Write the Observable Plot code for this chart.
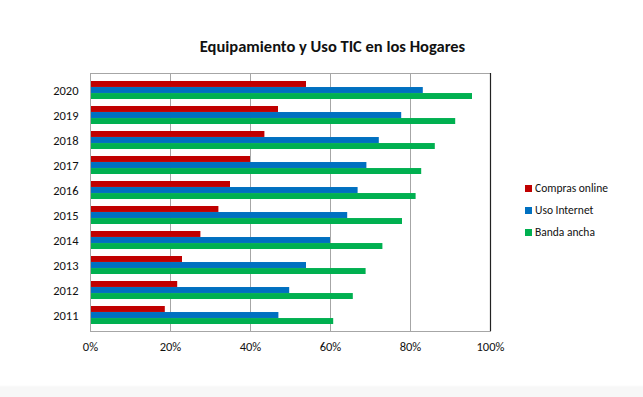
<!DOCTYPE html>
<html>
<head>
<meta charset="utf-8">
<script src="https://cdn.jsdelivr.net/npm/d3@7"></script>
<script src="https://cdn.jsdelivr.net/npm/@observablehq/plot@0.6"></script>
<style>
  html, body { margin: 0; padding: 0; background: #fff; }
  #wrap { position: relative; width: 643px; height: 397px; font-family: Carlito, Calibri, Lato, sans-serif; overflow: hidden;
          background: linear-gradient(to bottom, #fff 0, #fff 385px, #f7f7f7 387px, #f7f7f7 397px); }
  #legend { position: absolute; left: 525px; top: 177px; font-size: 11.5px; color: #111; }
  .item { display: flex; align-items: center; height: 22px; }
  .sw { width: 7px; height: 7px; margin-right: 3px; }
  svg { position: absolute; left: 0; top: 0; }
</style>
</head>
<body>
<div id="wrap"></div>
<script>
const years = [2020, 2019, 2018, 2017, 2016, 2015, 2014, 2013, 2012, 2011];
const comprasOnline = [54, 47, 43.6, 40, 35, 32.1, 27.6, 23, 21.8, 18.7];
const usoInternet   = [83.2, 77.8, 72.2, 69.1, 66.9, 64.3, 60, 54, 49.8, 47.1];
const bandaAncha    = [95.5, 91.3, 86.2, 82.8, 81.4, 78, 73.1, 68.9, 65.7, 60.8];
const seriesNames = ["Compras online", "Uso Internet", "Banda ancha"];
const seriesColors = ["#C00000", "#0070C0", "#00B050"];
const xTicks = [0, 20, 40, 60, 80, 100];
const gridTicks = [20, 40, 60, 80];
const title = "Equipamiento y Uso TIC en los Hogares";

const rows = (vals) => years.map((y, i) => ({year: String(y), value: vals[i]}));

const chart = Plot.plot({
  width: 643,
  height: 397,
  marginLeft: 90,
  marginRight: 153,
  marginTop: 73,
  marginBottom: 66,
  style: {fontFamily: "Carlito, Calibri, Lato, sans-serif", fontSize: "12.5px", color: "#111", background: "transparent"},
  x: {domain: [0, 100], ticks: xTicks, tickFormat: d => d + "%", tickSize: 0, tickPadding: 11, label: null},
  y: {domain: years.map(String), paddingInner: 0.3, paddingOuter: 0.15, tickSize: 0, tickPadding: 12, label: null},
  marks: [
    Plot.ruleX(gridTicks, {stroke: "#a6a6a6", strokeWidth: 1}),
    Plot.barX(rows(comprasOnline), {x: "value", y: "year", fill: seriesColors[0], insetBottom: 12.04}),
    Plot.barX(rows(usoInternet), {x: "value", y: "year", fill: seriesColors[1], insetTop: 6.02, insetBottom: 6.02}),
    Plot.barX(rows(bandaAncha), {x: "value", y: "year", fill: seriesColors[2], insetTop: 12.04}),
    Plot.frame({stroke: "#a6a6a6", strokeWidth: 1}),
    Plot.ruleX([100], {stroke: "#222", strokeWidth: 1.2}),
    Plot.text([title], {frameAnchor: "top", dy: -33, dx: 42, fontSize: 16.5, fontWeight: "bold", fill: "#111"})
  ]
});

const wrap = document.getElementById("wrap");
wrap.appendChild(chart);

const legend = document.createElement("div");
legend.id = "legend";
seriesNames.forEach((n, i) => {
  const it = document.createElement("div");
  it.className = "item";
  const sw = document.createElement("span");
  sw.className = "sw";
  sw.style.background = seriesColors[i];
  const t = document.createElement("span");
  t.textContent = n;
  it.appendChild(sw);
  it.appendChild(t);
  legend.appendChild(it);
});
wrap.appendChild(legend);
</script>
</body>
</html>
